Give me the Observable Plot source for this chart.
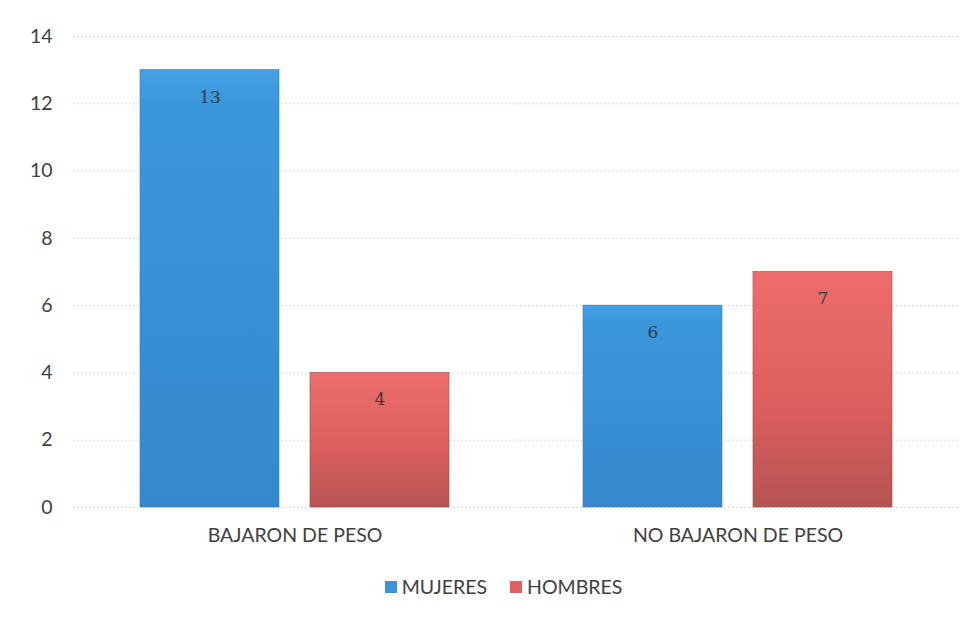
<!DOCTYPE html>
<html>
<head>
<meta charset="utf-8">
<script src="https://cdn.jsdelivr.net/npm/d3@7"></script>
<script src="https://cdn.jsdelivr.net/npm/@observablehq/plot@0.6"></script>
<style>
  body { margin: 0; background: #fff; font-family: Lato, "Open Sans", sans-serif; }
  #chart { width: 979px; position: relative; }
  .legend { display: flex; justify-content: center; gap: 23px; margin-top: 15px; font-size: 19.5px; color: #404040; padding-left: 28px; }
  .legend span { display: inline-flex; align-items: center; }
  .legend i { display: inline-block; width: 12px; height: 12px; margin-right: 5px; }
</style>
</head>
<body>
<div id="chart"></div>
<script>
const grupos = ["BAJARON DE PESO", "NO BAJARON DE PESO"];
const series = ["MUJERES", "HOMBRES"];
const mujeres = [13, 6];
const hombres = [4, 7];
const yTicks = [0, 2, 4, 6, 8, 10, 12, 14];
const seriesColors = ["#3b93d8", "#e0605f"];

const data = [];
grupos.forEach((g, i) => {
  data.push({grupo: g, sexo: series[0], valor: mujeres[i]});
  data.push({grupo: g, sexo: series[1], valor: hombres[i]});
});

const chart = Plot.plot({
  width: 979,
  height: 560,
  marginTop: 36,
  marginBottom: 53,
  marginLeft: 73,
  marginRight: 20,
  style: {fontFamily: "Lato, 'Open Sans', sans-serif", color: "#404040", background: "#fff", fontSize: "17px"},
  fx: {domain: grupos, padding: 0, label: null},
  x: {domain: series, paddingInner: 0.18, paddingOuter: 0.39, axis: null},
  y: {domain: [0, 14], label: null},
  marks: [
    Plot.gridY(yTicks, {stroke: "#cfcfcf", strokeOpacity: 1, strokeDasharray: "1.5,2.5", strokeWidth: 1}),
    Plot.axisY(yTicks, {tickSize: 0, tickPadding: 21, fontSize: 19.5, label: null}),
    Plot.axisFx({anchor: "bottom", tickSize: 0, tickPadding: 21, fontSize: 19.5, label: null}),
    Plot.barY(data.filter(d => d.sexo === series[0]), {fx: "grupo", x: "sexo", y: "valor", fill: "url(#gradM)", stroke: "#2f7fc0", strokeWidth: 0.6}),
    Plot.barY(data.filter(d => d.sexo === series[1]), {fx: "grupo", x: "sexo", y: "valor", fill: "url(#gradH)", stroke: "#a04848", strokeWidth: 0.6}),
    Plot.text(data, {fx: "grupo", x: "sexo", y: "valor", text: d => String(d.valor), dy: 27, fill: "#3a3a3a", fontSize: 17, fontWeight: "normal", fontFamily: "'DejaVu Serif', 'Liberation Serif', serif"})
  ]
});

const svg = d3.select(chart);
const defs = svg.insert("defs", ":first-child");
const gM = defs.append("linearGradient").attr("id", "gradM").attr("x1", 0).attr("y1", 0).attr("x2", 0).attr("y2", 1);
gM.append("stop").attr("offset", "0%").attr("stop-color", "#45a0e4");
gM.append("stop").attr("offset", "8%").attr("stop-color", "#3b97dc");
gM.append("stop").attr("offset", "100%").attr("stop-color", "#3588cc");
const gH = defs.append("linearGradient").attr("id", "gradH").attr("x1", 0).attr("y1", 0).attr("x2", 0).attr("y2", 1);
gH.append("stop").attr("offset", "0%").attr("stop-color", "#ec6d6c");
gH.append("stop").attr("offset", "55%").attr("stop-color", "#dc5f5e");
gH.append("stop").attr("offset", "100%").attr("stop-color", "#b55453");

document.getElementById("chart").appendChild(chart);

const legend = document.createElement("div");
legend.className = "legend";
series.forEach((s, i) => {
  const item = document.createElement("span");
  const sw = document.createElement("i");
  sw.style.background = seriesColors[i];
  item.appendChild(sw);
  item.appendChild(document.createTextNode(s));
  legend.appendChild(item);
});
document.getElementById("chart").appendChild(legend);
</script>
</body>
</html>
